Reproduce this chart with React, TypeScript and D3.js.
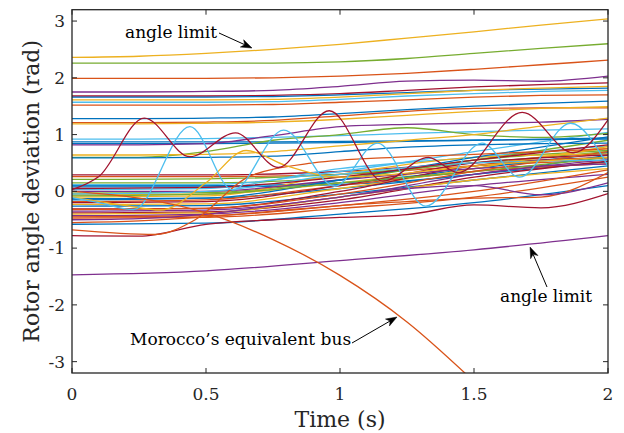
import React from "react";
import * as d3 from "d3";

const colorOrder = ["#0072BD", "#D95319", "#EDB120", "#7E2F8E", "#77AC30", "#4DBEEE", "#A2142F"];

const xTicks = [0, 0.5, 1, 1.5, 2];
const xTickLabels = ["0", "0.5", "1", "1.5", "2"];
const yTicks = [-3, -2, -1, 0, 1, 2, 3];
const yTickLabels = ["-3", "-2", "-1", "0", "1", "2", "3"];

// time grids
const tGrid9 = [0, 0.25, 0.5, 0.75, 1, 1.25, 1.5, 1.75, 2];
const tGrid5 = [0, 0.5, 1, 1.5, 2];

// upper, nearly flat machines (values on tGrid9)
const upperValues = [
  [2.36, 2.38, 2.43, 2.5, 2.59, 2.7, 2.81, 2.93, 3.04],
  [2.26, 2.26, 2.26, 2.26, 2.28, 2.34, 2.43, 2.52, 2.6],
  [1.99, 1.99, 1.99, 2.0, 2.03, 2.08, 2.15, 2.23, 2.31],
  [1.75, 1.75, 1.76, 1.78, 1.85, 1.94, 1.96, 1.94, 2.03],
  [1.68, 1.68, 1.68, 1.69, 1.72, 1.78, 1.84, 1.88, 1.91],
  [1.66, 1.66, 1.66, 1.67, 1.7, 1.74, 1.78, 1.8, 1.82],
  [1.61, 1.61, 1.61, 1.62, 1.66, 1.72, 1.78, 1.82, 1.85],
  [1.57, 1.57, 1.57, 1.58, 1.62, 1.68, 1.72, 1.76, 1.78],
  [1.52, 1.52, 1.52, 1.53, 1.57, 1.61, 1.66, 1.69, 1.7],
  [1.28, 1.28, 1.29, 1.31, 1.37, 1.44, 1.5, 1.55, 1.59],
  [1.21, 1.21, 1.22, 1.25, 1.33, 1.41, 1.46, 1.47, 1.47],
  [1.19, 1.19, 1.2, 1.22, 1.27, 1.34, 1.41, 1.46, 1.49],
  [0.92, 0.92, 0.93, 0.95, 0.98, 1.02, 1.05, 1.08, 1.1],
  [0.87, 0.87, 0.87, 0.87, 0.88, 0.89, 0.9, 0.92, 0.94],
  [0.84, 0.84, 0.84, 0.85, 0.86, 0.88, 0.9, 0.91, 0.92],
  [0.82, 0.82, 0.84, 0.98, 1.14, 1.18, 1.2, 1.22, 1.27],
  [0.6, 0.6, 0.7, 0.9, 1.0, 1.12, 1.0, 0.95, 1.02],
  [0.64, 0.64, 0.65, 0.7, 0.8, 0.9, 1.0, 1.15, 1.29],
  [0.59, 0.59, 0.6, 0.62, 0.7, 0.78, 0.82, 0.84, 0.85],
  [-0.55, -0.52, -0.45, -0.35, -0.25, -0.18, -0.12, -0.1, 0.33],
  [-0.5, -0.48, -0.4, -0.25, -0.1, 0.05, 0.1, -0.06, 0.15],
  [-0.78, -0.79, -0.58, -0.5, -0.46, -0.41, -0.24, -0.29, -0.04],
];
const upperColors = [2, 4, 1, 3, 6, 0, 2, 5, 1, 0, 1, 2, 5, 0, 0, 3, 4, 2, 0, 1, 3, 6];

// dense bundle of machines (values on tGrid5)
const bundleValues = [
  [0.29, 0.29, 0.35, 0.5, 0.6],
  [0.26, 0.26, 0.3, 0.45, 0.55],
  [0.21, 0.22, 0.3, 0.5, 0.7],
  [0.1, 0.1, 0.15, 0.4, 0.68],
  [0.08, 0.08, 0.12, 0.3, 0.64],
  [0.03, 0.05, 0.4, 0.6, 0.8],
  [-0.03, -0.02, 0.2, 0.55, 0.72],
  [-0.06, -0.05, 0.15, 0.45, 0.76],
  [-0.13, -0.12, 0.05, 0.3, 0.52],
  [-0.18, -0.15, 0.1, 0.35, 0.49],
  [-0.23, -0.22, 0.05, 0.4, 0.79],
  [-0.26, -0.25, -0.05, 0.2, 0.45],
  [-0.31, -0.3, 0.0, 0.45, 0.59],
  [-0.35, -0.33, -0.1, 0.3, 0.56],
  [-0.38, -0.36, -0.15, 0.25, 0.53],
  [-0.43, -0.4, -0.2, 0.1, 0.3],
  [-0.45, -0.43, -0.25, 0.0, 0.38],
  [-0.47, -0.46, -0.3, -0.1, 0.25],
  [-0.58, -0.56, -0.4, -0.2, 0.1],
  [0.15, 0.15, 0.25, 0.55, 0.9],
  [0.12, 0.12, 0.35, 0.7, 1.04],
  [-0.1, -0.08, 0.3, 0.6, 0.66],
  [-0.2, -0.18, 0.1, 0.5, 0.64],
  [0.0, 0.0, 0.2, 0.4, 0.48],
  [-0.15, -0.12, 0.2, 0.6, 0.96],
  [-0.08, -0.05, 0.15, 0.35, 0.6],
  [-0.32, -0.3, -0.05, 0.35, 0.7],
  [-0.4, -0.38, -0.1, 0.2, 0.4],
  [-0.05, 0.0, 0.3, 0.5, 0.55],
  [0.05, 0.07, 0.25, 0.55, 0.82],
];
const bundleColors = [6, 1, 4, 0, 0, 5, 4, 2, 0, 1, 2, 0, 6, 3, 6, 3, 1, 1, 0, 4, 5, 2, 6, 3, 0, 4, 1, 2, 5, 6];

// oscillating machines
const redOscTimes = [0, 0.1, 0.27, 0.44, 0.61, 0.77, 0.96, 1.16, 1.33, 1.44, 1.68, 1.87, 2];
const redOscValues = [0.03, 0.26, 1.29, 0.61, 1.03, 0.42, 1.42, 0.18, 0.6, 0.33, 1.39, 0.68, 1.26];
const blueOscTimes = [0, 0.1, 0.23, 0.44, 0.6, 0.79, 0.98, 1.14, 1.32, 1.53, 1.67, 1.86, 2];
const blueOscValues = [-0.11, -0.2, -0.32, 1.14, 0.02, 1.08, 0.09, 0.85, -0.26, 0.85, 0.25, 1.2, 0.44];
const yellowOscTimes = [0, 0.2, 0.33, 0.5, 0.65, 0.8, 1.0, 1.2, 1.5, 2];
const yellowOscValues = [-0.1, -0.25, -0.33, 0.15, 0.72, 0.45, 0.25, 0.3, 0.45, 0.6];
const orangeRiseTimes = [0, 0.31, 0.46, 0.66, 0.9, 1.2, 1.5, 2];
const orangeRiseValues = [-0.68, -0.76, -0.5, 0.26, 0.5, 0.6, 0.65, 0.75];

// lower angle limit machine
const lowerLimitValues = [-1.47, -1.4, -1.22, -1.03, -0.78];

// Morocco's equivalent bus
const moroccoTimes = [0, 0.25, 0.5, 0.75, 1, 1.25, 1.5];
const moroccoValues = [0, -0.12, -0.38, -0.85, -1.48, -2.3, -3.35];

const W = 624;
const H = 433;
const L = 72, R = 608, T = 9.7, B = 373;
const FONT = "'DejaVu Serif', serif";
const AX = "#262626";

function arrowPath(x1: number, y1: number, x2: number, y2: number) {
  const dx = x2 - x1, dy = y2 - y1;
  const len = Math.hypot(dx, dy);
  const ux = dx / len, uy = dy / len;
  const px = -uy, py = ux;
  const hl = 11, hw = 4, notch = 8;
  const bx = x2 - ux * hl, by = y2 - uy * hl;
  const nx = x2 - ux * notch, ny = y2 - uy * notch;
  return {
    line: `M${x1},${y1}L${nx},${ny}`,
    head: `M${x2},${y2}L${bx + px * hw},${by + py * hw}L${nx},${ny}L${bx - px * hw},${by - py * hw}Z`,
  };
}

export default function App() {
  const x = d3.scaleLinear().domain([0, 2]).range([L, R]);
  const y = d3.scaleLinear().domain([-3.2, 3.2]).range([B, T]);
  const line = d3
    .line<[number, number]>()
    .x((d) => x(d[0]))
    .y((d) => y(d[1]))
    .curve(d3.curveMonotoneX);
  const mk = (ts: number[], vs: number[]) => line(ts.map((t, i) => [t, vs[i]] as [number, number])) || "";

  const paths: { d: string; c: string }[] = [];
  bundleValues.forEach((v, i) => paths.push({ d: mk(tGrid5, v), c: colorOrder[bundleColors[i]] }));
  upperValues.forEach((v, i) => paths.push({ d: mk(tGrid9, v), c: colorOrder[upperColors[i]] }));
  paths.push({ d: mk(tGrid5, lowerLimitValues), c: colorOrder[3] });
  paths.push({ d: mk(orangeRiseTimes, orangeRiseValues), c: colorOrder[1] });
  paths.push({ d: mk(yellowOscTimes, yellowOscValues), c: colorOrder[2] });
  paths.push({ d: mk(blueOscTimes, blueOscValues), c: colorOrder[5] });
  paths.push({ d: mk(redOscTimes, redOscValues), c: colorOrder[6] });
  paths.push({ d: mk(moroccoTimes, moroccoValues), c: colorOrder[1] });

  const a1 = arrowPath(219, 33, 252, 48);
  const a2 = arrowPath(547, 287, 530, 247);
  const a3 = arrowPath(352, 343, 397, 317);

  return (
    <svg width={W} height={H} style={{ position: "absolute", left: 0, top: 0, background: "#fff" }} fontFamily={FONT}>
      <defs>
        <clipPath id="plotclip">
          <rect x={L} y={T} width={R - L} height={B - T} />
        </clipPath>
      </defs>
      <rect x={0} y={0} width={W} height={H} fill="#fff" />
      <g clipPath="url(#plotclip)">
        {paths.map((p, i) => (
          <path key={i} d={p.d} fill="none" stroke={p.c} strokeWidth={1.3} />
        ))}
      </g>
      {/* box */}
      <rect x={L} y={T} width={R - L} height={B - T} fill="none" stroke={AX} strokeWidth={1.3} />
      {xTicks.map((t, i) => (
        <g key={"xt" + i}>
          <line x1={x(t)} x2={x(t)} y1={B} y2={B - 5} stroke={AX} strokeWidth={1} />
          <line x1={x(t)} x2={x(t)} y1={T} y2={T + 5} stroke={AX} strokeWidth={1} />
          <text x={x(t)} y={400} textAnchor="middle" fontSize={17} fill="#262626">
            {xTickLabels[i]}
          </text>
        </g>
      ))}
      {yTicks.map((t, i) => (
        <g key={"yt" + i}>
          <line x1={L} x2={L + 5} y1={y(t)} y2={y(t)} stroke={AX} strokeWidth={1} />
          <line x1={R} x2={R - 5} y1={y(t)} y2={y(t)} stroke={AX} strokeWidth={1} />
          <text x={65} y={y(t)} dy="0.35em" textAnchor="end" fontSize={17} fill="#262626">
            {yTickLabels[i]}
          </text>
        </g>
      ))}
      <text x={340} y={427} textAnchor="middle" fontSize={22} fill="#262626">
        Time (s)
      </text>
      <text transform={`translate(39,${y(0)}) rotate(-90)`} textAnchor="middle" fontSize={22} fill="#262626">
        Rotor angle deviation (rad)
      </text>
      {/* annotations */}
      <text x={125} y={38} fontSize={17} fill="#000">angle limit</text>
      <text x={500} y={302} fontSize={17} fill="#000">angle limit</text>
      <text x={130} y={345} fontSize={17} fill="#000">Morocco’s equivalent bus</text>
      {[a1, a2, a3].map((a, i) => (
        <g key={"ar" + i}>
          <path d={a.line} stroke="#000" strokeWidth={1} fill="none" />
          <path d={a.head} fill="#000" stroke="#000" strokeWidth={0.5} />
        </g>
      ))}
    </svg>
  );
}
